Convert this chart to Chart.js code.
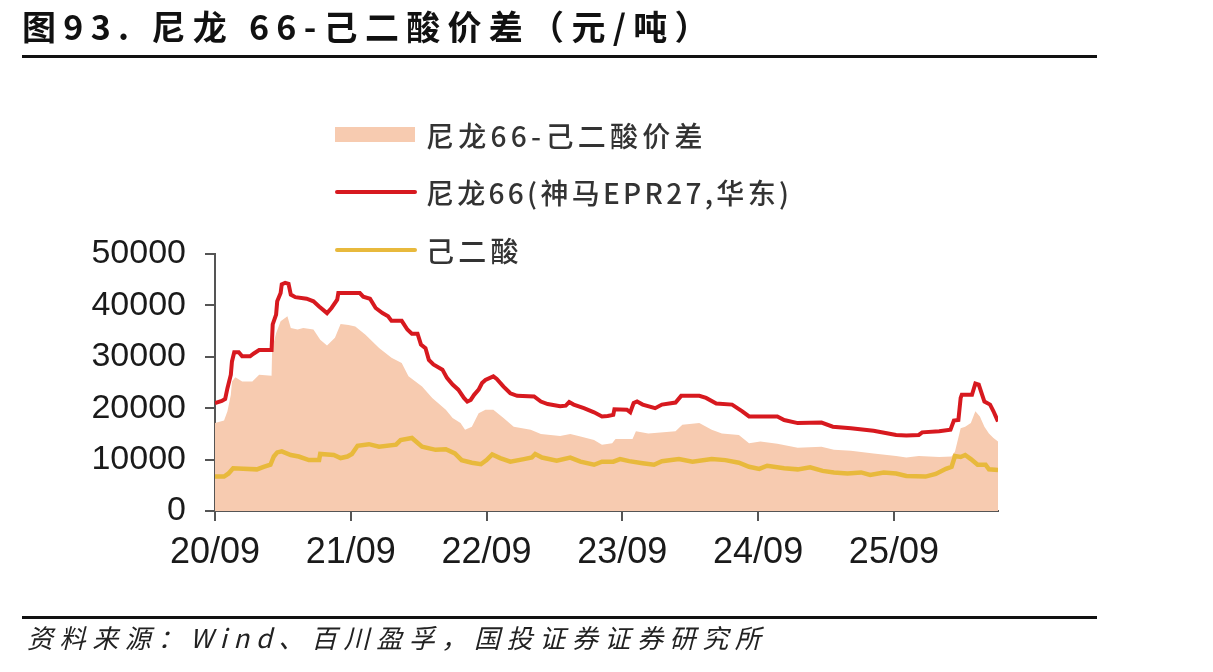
<!DOCTYPE html>
<html lang="zh-CN">
<head>
<meta charset="utf-8">
<title>尼龙66-己二酸价差</title>
<script src="https://cdn.jsdelivr.net/npm/chart.js@4.4.1/dist/chart.umd.min.js"></script>
<style>
  body { margin: 0; background: #fff; }
  .pagina { position: relative; width: 1213px; height: 672px; overflow: hidden; font-family: "Noto Sans CJK SC", "Noto Sans", sans-serif; }
  .pagina canvas { position: absolute; left: 0; top: 0; }
  .titulo { position: absolute; left: 22px; top: 6px; font-size: 34px; line-height: 40px; font-weight: bold; color: #111; letter-spacing: 7.3px; white-space: nowrap; }
  .regua { position: absolute; left: 22px; width: 1075px; height: 3px; background: #111; }
  .fonte { position: absolute; left: 27px; top: 621px; font-size: 26px; line-height: 32px; font-style: italic; color: #222; letter-spacing: 6.6px; white-space: nowrap; }
  .legenda-item { position: absolute; left: 335px; height: 30px; }
  .legenda-item .marca { position: absolute; left: 0; }
  .legenda-item .texto { position: absolute; left: 91px; top: 0; font-size: 28px; line-height: 30px; color: #333; letter-spacing: 4.3px; white-space: nowrap; font-weight: 500; }
</style>
</head>
<body>
<div class="pagina">
  <canvas id="grafico" width="1213" height="672"></canvas>
  <div class="titulo">图93. 尼龙 66-己二酸价差（元/吨）</div>
  <div class="regua" style="top:55px"></div>

  <div class="legenda-item" style="top:120px">
    <div class="marca" style="top:7px;width:80px;height:15px;background:#f7cbb0"></div>
    <div class="texto">尼龙66-己二酸价差</div>
  </div>
  <div class="legenda-item" style="top:177px">
    <div class="marca" style="top:13px;width:82px;height:4px;border-radius:2px;background:#d7191f"></div>
    <div class="texto" style="letter-spacing:3.3px">尼龙66(神马EPR27,华东)</div>
  </div>
  <div class="legenda-item" style="top:235px">
    <div class="marca" style="top:13px;width:82px;height:4px;border-radius:2px;background:#e8b93c"></div>
    <div class="texto">己二酸</div>
  </div>

  <div class="regua" style="top:616px"></div>
  <div class="fonte">资料来源：Wind、百川盈孚，国投证券证券研究所</div>
</div>

<script>
// Eixo X em meses desde 2020/09
const xTickMonths = [0, 12, 24, 36, 48, 60];
const xTickLabels = ["20/09", "21/09", "22/09", "23/09", "24/09", "25/09"];
const yTickValues = [0, 10000, 20000, 30000, 40000, 50000];

// 尼龙66(神马EPR27,华东)
const nylonMonths = [
  0, 0.6, 0.9, 1.1, 1.4, 1.5, 1.7, 2.1, 2.4, 3.1, 3.4, 3.9, 5.0, 5.1, 5.4, 5.5, 5.8, 5.9, 6.2, 6.5,
  6.7, 7.1, 8.1, 8.7, 9.2, 9.9, 10.3, 10.8, 10.9, 12.8, 13.1, 13.7, 14.2, 14.8, 15.3, 15.6, 16.5, 17.0, 17.4, 17.9,
  18.2, 18.6, 18.9, 19.3, 20.1, 20.5, 21.0, 21.5, 22.0, 22.3, 22.6, 22.9, 23.3, 23.6, 23.9, 24.6, 24.9, 25.5, 26.1, 26.7,
  28.2, 28.8, 29.4, 30.5, 31.0, 31.3, 31.7, 32.6, 33.5, 34.2, 34.7, 35.2, 35.3, 36.4, 36.7, 37.0, 37.3, 37.8, 38.9, 39.5,
  40.7, 41.2, 42.8, 43.4, 44.3, 45.7, 46.6, 47.2, 49.7, 50.3, 51.5, 53.6, 54.6, 56.2, 58.2, 60.2, 61.1, 62.2, 62.5, 64.0,
  65.0, 65.3, 65.7, 65.9, 66.0, 66.9, 67.2, 67.5, 67.8, 68.0, 68.5, 68.8, 69.0, 69.2
];
const nylonValues = [
  21000, 21400, 21800, 23900, 26500, 29100, 30900, 30900, 30100, 30100, 30600, 31300, 31300, 36300, 38200, 40800, 42400, 44100, 44400, 44200,
  42100, 41600, 41300, 40800, 39800, 38500, 39500, 41100, 42400, 42400, 41700, 41300, 39500, 38500, 37900, 37000, 37000, 35300, 34500, 34500,
  32400, 31700, 29400, 28500, 27500, 25900, 24600, 23600, 22000, 21300, 21600, 22600, 23600, 24900, 25500, 26200, 25700, 24200, 22900, 22400,
  22300, 21300, 20800, 20400, 20500, 21200, 20700, 20000, 19200, 18400, 18500, 18700, 19800, 19700, 19200, 21000, 21300, 20700, 20000, 20700,
  21100, 22400, 22400, 22000, 20900, 20700, 19400, 18400, 18400, 17700, 17100, 17200, 16400, 16100, 15600, 14800, 14700, 14800, 15300, 15500,
  15800, 17600, 17700, 22000, 22600, 22600, 24800, 24600, 22600, 21300, 20700, 19400, 18400, 17400
];

// 己二酸
const adipicMonths = [
  0, 0.8, 1.2, 1.6, 2.5, 3.7, 4.3, 4.9, 5.2, 5.5, 5.9, 6.7, 7.4, 8.3, 9.2, 9.3, 10.5, 11.1, 11.7, 12.1,
  12.6, 13.6, 14.5, 16.0, 16.4, 17.4, 18.3, 19.5, 20.4, 21.2, 21.8, 22.7, 23.5, 24.0, 24.5, 25.2, 26.1, 27.3, 28.0, 28.3,
  28.9, 30.2, 31.4, 32.3, 33.5, 34.2, 35.2, 35.8, 36.6, 37.8, 38.8, 39.5, 41.0, 42.2, 43.9, 45.1, 46.3, 47.2, 48.1, 48.8,
  50.3, 51.5, 52.6, 53.7, 54.7, 55.9, 57.1, 57.9, 59.1, 60.2, 61.1, 62.8, 63.7, 64.6, 65.1, 65.4, 65.9, 66.3, 66.8, 67.4,
  68.1, 68.4, 69.2
];
const adipicValues = [
  6700, 6700, 7300, 8300, 8200, 8100, 8600, 9000, 10600, 11400, 11600, 10900, 10600, 9900, 9900, 11100, 10900, 10300, 10600, 11100,
  12700, 13000, 12500, 12900, 13800, 14200, 12500, 11900, 12000, 11200, 9900, 9400, 9100, 9900, 11000, 10300, 9600, 10100, 10400, 11100,
  10400, 9800, 10400, 9600, 9000, 9600, 9600, 10100, 9700, 9300, 9000, 9700, 10100, 9600, 10100, 9900, 9400, 8600, 8200, 8800,
  8300, 8100, 8500, 7800, 7500, 7300, 7500, 7000, 7500, 7300, 6800, 6700, 7200, 8200, 8600, 10700, 10500, 10900, 10100, 9000,
  9000, 8100, 8000
];

// 尼龙66-己二酸价差
const spreadMonths = [
  0, 0.8, 1.1, 1.4, 1.5, 1.8, 2.4, 3.3, 3.9, 5.0, 5.05, 5.4, 5.8, 6.4, 6.7, 7.3, 7.8, 8.7, 9.3, 9.9,
  10.6, 11.1, 11.8, 12.4, 13.3, 14.5, 15.6, 16.5, 17.1, 18.3, 19.2, 20.4, 21.0, 21.7, 22.1, 22.7, 23.3, 23.9, 24.6, 25.5,
  26.4, 27.9, 28.8, 30.5, 31.4, 32.3, 33.5, 34.2, 35.1, 35.4, 36.9, 37.2, 38.3, 40.7, 41.3, 42.8, 43.9, 44.8, 46.3, 47.2,
  48.2, 49.7, 51.5, 53.6, 54.7, 56.2, 58.2, 60.2, 61.1, 62.2, 64.0, 65.1, 65.4, 65.9, 66.3, 66.8, 67.2, 67.6, 68.0, 68.4,
  68.8, 69.2
];
const spreadValues = [
  17100, 17600, 19400, 22600, 25200, 26000, 25200, 25200, 26500, 26300, 31400, 34600, 36900, 37900, 35600, 35300, 35600, 35300, 33300, 32200,
  33700, 36400, 36200, 35900, 34300, 31700, 29800, 28800, 26200, 24200, 22000, 19700, 18100, 17100, 15800, 16400, 19000, 19700, 19700, 18100,
  16400, 15800, 15000, 14600, 15000, 14500, 13800, 12900, 13200, 14000, 14000, 15500, 15100, 15500, 16800, 17100, 15800, 15100, 14800, 13200,
  13500, 13100, 12300, 12500, 11900, 11700, 11200, 10700, 10400, 10700, 10500, 10600, 11600, 16100, 16400, 17100, 19400, 18400, 16400, 15100,
  14200, 13500
];

const pontos = (meses, valores) => meses.map((m, i) => ({ x: m, y: valores[i] }));

const corEixo = "#555555";
const familiaNumeros = "'Liberation Sans', Arial, sans-serif";

const ctx = document.getElementById("grafico").getContext("2d");
new Chart(ctx, {
  type: "line",
  data: {
    datasets: [
      {
        label: "尼龙66(神马EPR27,华东)",
        data: pontos(nylonMonths, nylonValues),
        borderColor: "#d7191f",
        borderWidth: 4,
        pointRadius: 0,
        fill: false,
        order: 0
      },
      {
        label: "己二酸",
        data: pontos(adipicMonths, adipicValues),
        borderColor: "#e8b93c",
        borderWidth: 4.5,
        pointRadius: 0,
        fill: false,
        order: 1
      },
      {
        label: "尼龙66-己二酸价差",
        data: pontos(spreadMonths, spreadValues),
        borderWidth: 0,
        borderColor: "rgba(0,0,0,0)",
        backgroundColor: "#f7cbb0",
        pointRadius: 0,
        fill: "origin",
        order: 2
      }
    ]
  },
  options: {
    responsive: false,
    animation: false,
    devicePixelRatio: 1,
    layout: { padding: { left: 0, top: 254, right: 215, bottom: 0 } },
    plugins: {
      legend: { display: false },
      tooltip: { enabled: false }
    },
    scales: {
      x: {
        type: "linear",
        min: 0,
        max: 69.2,
        afterBuildTicks: (s) => { s.ticks = xTickMonths.map(v => ({ value: v })); },
        afterFit: (s) => { s.height = 161; },
        ticks: {
          callback: (v, i) => xTickLabels[i],
          font: { family: familiaNumeros, size: 36 },
          color: "#1a1a1a",
          padding: 10,
          maxRotation: 0,
          autoSkip: false
        },
        grid: { drawOnChartArea: false, tickLength: 10, color: corEixo, lineWidth: 2 },
        border: { color: corEixo, width: 2 }
      },
      y: {
        min: 0,
        max: 50000,
        afterBuildTicks: (s) => { s.ticks = yTickValues.map(v => ({ value: v })); },
        afterFit: (s) => { s.width = 215; },
        ticks: {
          callback: (v) => String(v),
          font: { family: familiaNumeros, size: 34 },
          color: "#1a1a1a",
          padding: 19
        },
        grid: { drawOnChartArea: false, tickLength: 10, color: corEixo, lineWidth: 2 },
        border: { color: corEixo, width: 2 }
      }
    }
  }
});
</script>
</body>
</html>
